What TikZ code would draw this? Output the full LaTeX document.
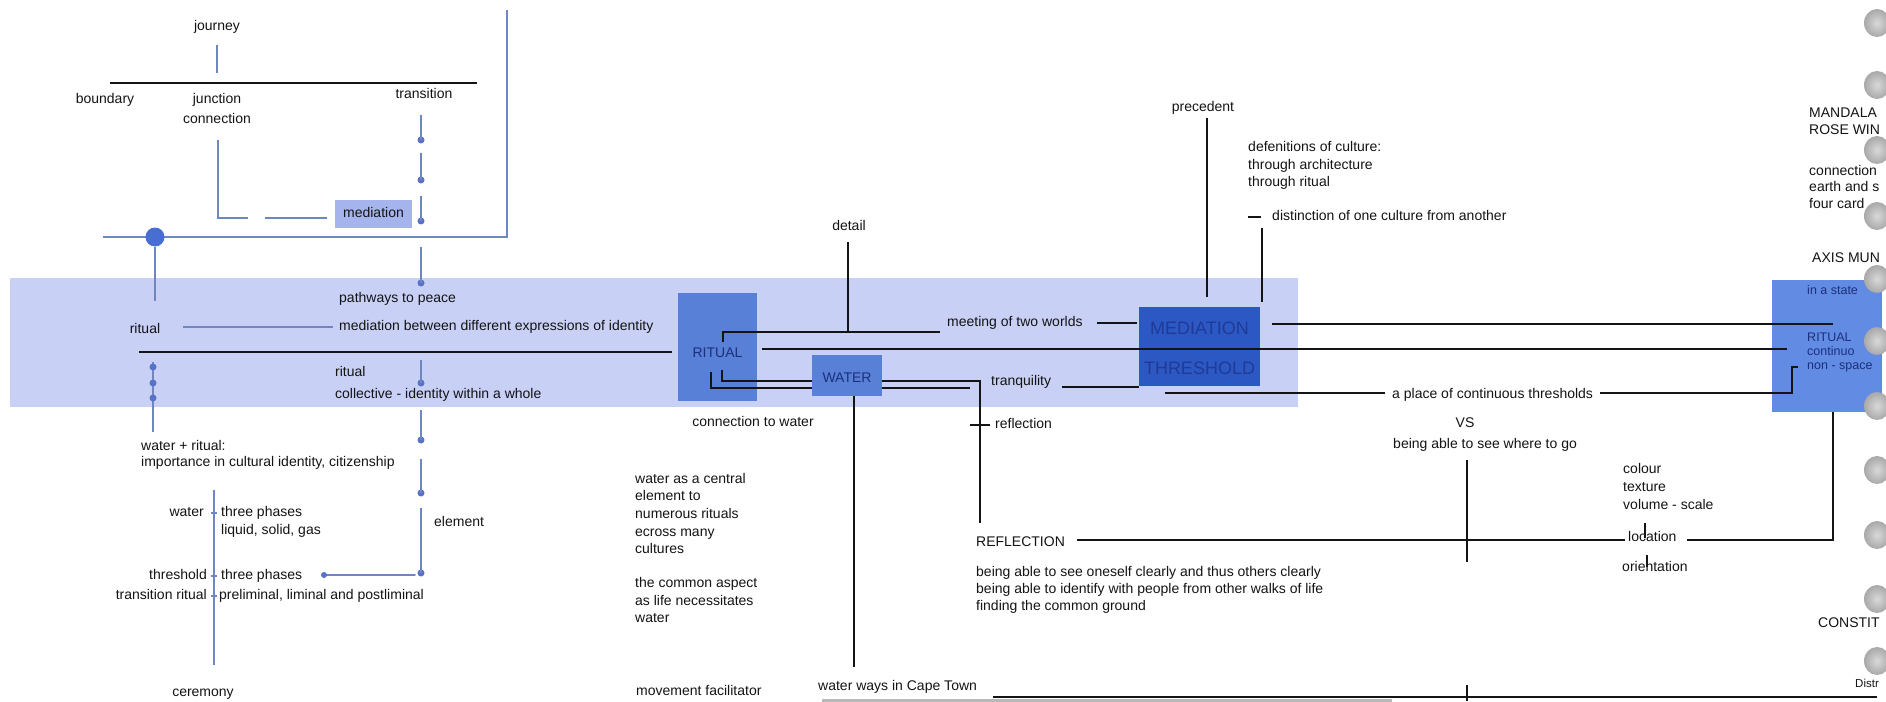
\documentclass[tikz,border=0pt]{standalone}
\usepackage{fontspec}
\setmainfont{Liberation Sans}
\definecolor{band}{RGB}{201,208,246}
\definecolor{boxblue}{RGB}{88,128,214}
\definecolor{medblue}{RGB}{44,88,196}
\definecolor{rightblue}{RGB}{98,140,228}
\definecolor{hilite}{RGB}{165,180,236}
\definecolor{bline}{RGB}{112,134,192}
\definecolor{bdot}{RGB}{88,114,200}
\definecolor{bigdot}{RGB}{72,110,212}
\definecolor{navy}{RGB}{28,48,125}
\definecolor{dimnavy}{RGB}{32,58,150}
\definecolor{ink}{RGB}{20,20,20}
\tikzset{
  txt/.style={inner sep=0pt,text height=10pt,text depth=3pt,font=\fontsize{14}{17}\selectfont,text=ink},
  smalltxt/.style={inner sep=0pt,text height=9pt,text depth=3pt,font=\fontsize{12.5}{15}\selectfont,text=navy},
  boxnode/.style={inner sep=0pt,font=\fontsize{14}{17}\selectfont,text=navy},
  bignode/.style={inner sep=0pt,fill=medblue,font=\fontsize{18}{20}\selectfont,text=dimnavy,text height=13pt,text depth=0pt},
  bl/.style={draw=ink,line width=1.8pt},
  gl/.style={draw=bline,line width=1.8pt},
  bdotn/.style={circle,fill=bdot,inner sep=0pt,minimum size=7pt},
  hole/.style={ellipse,inner sep=0pt,minimum width=26pt,minimum height=28pt,inner color=gray!30,outer color=gray!68},
}
\usetikzlibrary{shapes.geometric}
\begin{document}
\begin{tikzpicture}[x=1pt,y=-1pt]
\useasboundingbox (0,0) rectangle (1886,701);
\fill[white] (0,0) rectangle (1886,701);
% light band
\fill[band] (10,278) rectangle (1298,407);

% ---------- coordinates ----------
\path (217,45) coordinate (jA) (217,73) coordinate (jB)
      (110,83) coordinate (tA) (477,83) coordinate (tB)
      (218,140) coordinate (cA) (218,218) coordinate (cB) (248,218) coordinate (cC)
      (265,218) coordinate (cD) (327,218) coordinate (cE)
      (103,237) coordinate (fA) (507,237) coordinate (fB) (507,10) coordinate (fC)
      (155,301) coordinate (dA)
      (183,327) coordinate (rA) (333,327) coordinate (rB)
      (139,352) coordinate (kA) (672,352) coordinate (kB)
      (153,362) coordinate (lA) (153,432) coordinate (lB)
      (214,490) coordinate (vA) (214,665) coordinate (vB)
      (415,575) coordinate (eA) (324,575) coordinate (eB)
      (848,242) coordinate (dtA) (848,332) coordinate (dtB) (723,342) coordinate (dtC)
      (723,332) coordinate (dtD) (940,332) coordinate (dtE)
      (762,349) coordinate (mA) (1787,349) coordinate (mB)
      (722,370) coordinate (wA) (722,381) coordinate (wB) (980,381) coordinate (wC) (980,523) coordinate (wD)
      (711,372) coordinate (xA) (711,388) coordinate (xB) (970,388) coordinate (xC)
      (854,396) coordinate (wdA) (854,667) coordinate (wdB)
      (1097,323) coordinate (mtA) (1137,323) coordinate (mtB)
      (1272,324) coordinate (meA) (1833,324) coordinate (meB)
      (1207,118) coordinate (pA) (1207,297) coordinate (pB)
      (1248,217) coordinate (dsA) (1261,217) coordinate (dsB) (1262,228) coordinate (dsC) (1262,302) coordinate (dsD)
      (1062,387) coordinate (tqA) (1139,387) coordinate (tqB)
      (970,425) coordinate (rfA) (990,425) coordinate (rfB)
      (1165,393) coordinate (apA) (1385,393) coordinate (apB) (1600,393) coordinate (apC)
      (1792,393) coordinate (apD) (1792,367) coordinate (apE) (1798,367) coordinate (apF)
      (1077,540) coordinate (RA) (1625,540) coordinate (RB) (1687,540) coordinate (RC)
      (1833,540) coordinate (RD) (1833,412) coordinate (RE)
      (1645,523) coordinate (k1A) (1645,538) coordinate (k1B) (1647,555) coordinate (k2A) (1647,567) coordinate (k2B)
      (1467,460) coordinate (vsA) (1467,562) coordinate (vsB)
      (993,697) coordinate (btA) (1877,697) coordinate (btB) (1467,685) coordinate (btC) (1467,701) coordinate (btD)
      (822,700) coordinate (gA) (1392,700) coordinate (gB);

% ---------- top-left cluster ----------
\node[txt] (journey) at (217,27) {journey};
\node[txt] (boundary) at (105,100) {boundary};
\node[txt] (junction) at (217,100) {junction};
\node[txt] (connection) at (217,120) {connection};
\node[txt] (transition) at (424,95) {transition};
\node[txt,fill=hilite,minimum width=77pt,minimum height=28pt] (mediation) at (373.5,214) {mediation};
\draw[gl] (jA) -- (jB);
\draw[bl] (tA) -- (tB);
\draw[gl] (cA) -- (cB) -- (cC);
\draw[gl] (cD) -- (cE);
\draw[gl,line width=1.5pt] (fA) -- (fB) -- (fC);
\node[circle,fill=bigdot,minimum size=19pt,inner sep=0pt] (bigdot) at (155,237) {};
\draw[gl] (bigdot.south) -- (dA);
% dotted chain from transition
\foreach \a/\b [count=\i] in {115/140,153/180,196/221,247/283,360/383,410/440,459/493,508/573}{
  \node[bdotn] (cdot\i) at (421,\b) {};
  \draw[gl] (421,\a) coordinate (cs\i) -- (cdot\i.center);
}
\draw[gl,line cap=round] (eA) -- (eB);
\node[bdotn,minimum size=6pt] (edot) at (eB) {};
% left chain
\draw[gl] (lA) -- (lB);
\foreach \b [count=\i] in {367,383,398}{ \node[bdotn] (ldot\i) at (153,\b) {}; }
% band texts
\node[txt] (ritualL) at (145,330) {ritual};
\draw[gl] (rA) -- (rB);
\node[txt,anchor=west] (pathways) at (339,299) {pathways to peace};
\node[txt,anchor=west] (medbetween) at (339,327) {mediation between different expressions of identity};
\draw[bl] (kA) -- (kB);
\node[txt,anchor=west] (ritualM) at (335,373) {ritual};
\node[txt,anchor=west] (collective) at (335,395) {collective - identity within a whole};
\node[txt,anchor=west] (waterritual) at (141,447) {water + ritual:};
\node[txt,anchor=west] (importance) at (141,463) {importance in cultural identity, citizenship};
% phases
\draw[gl] (vA) -- (vB);
\foreach \yy in {513,576,596}{ \draw[gl,line width=1.5pt] (211,\yy) -- (217,\yy); }
\node[txt,anchor=east] (waterL) at (204,513) {water};
\node[txt,anchor=west] (phases1) at (221,513) {three phases};
\node[txt,anchor=west] (liquid) at (221,531) {liquid, solid, gas};
\node[txt,anchor=east] (thresholdL) at (207,576) {threshold};
\node[txt,anchor=west] (phases2) at (221,576) {three phases};
\node[txt,anchor=east] (transritual) at (207,596) {transition ritual};
\node[txt,anchor=west] (preliminal) at (219,596) {preliminal, liminal and postliminal};
\node[txt,anchor=west] (element) at (434,523) {element};
\node[txt] (ceremony) at (203,693) {ceremony};

% ---------- middle ----------
\node[boxnode,fill=boxblue,minimum width=79pt,minimum height=108pt,text height=20pt,text depth=0pt] (ritualbox) at (717.5,347) {RITUAL};
\draw[bl] (wA) -- (wB) -- (wC) -- (wD);
\draw[bl] (xA) -- (xB) -- (xC);
\node[boxnode,fill=boxblue,minimum width=70pt,minimum height=41pt,text height=13pt,text depth=0pt] (waterbox) at (847,375.5) {WATER};
\node[txt] (detail) at (849,227) {detail};
\draw[bl] (dtA) -- (dtB);
\draw[bl] (dtC) -- (dtD) -- (dtE);
\draw[bl] (wdA) -- (wdB);
\node[txt] (conwater) at (753,423) {connection to water};
\node[txt,anchor=west] (wc1) at (635,480) {water as a central};
\node[txt,anchor=west] (wc2) at (635,497) {element to};
\node[txt,anchor=west] (wc3) at (635,515) {numerous rituals};
\node[txt,anchor=west] (wc4) at (635,533) {ecross many};
\node[txt,anchor=west] (wc5) at (635,550) {cultures};
\node[txt,anchor=west] (ca1) at (635,584) {the common aspect};
\node[txt,anchor=west] (ca2) at (635,602) {as life necessitates};
\node[txt,anchor=west] (ca3) at (635,619) {water};
\node[txt,anchor=west] (movement) at (636,692) {movement facilitator};
\node[txt,anchor=west] (waterways) at (818,687) {water ways in Cape Town};
\draw[gray!55,line width=3pt] (gA) -- (gB);
\draw[bl] (btA) -- (btB);
\draw[bl] (btC) -- (btD);

\node[txt,anchor=west] (meeting) at (947,323) {meeting of two worlds};
\draw[bl] (mtA) -- (mtB);
\node[txt,anchor=west] (tranq) at (991,382) {tranquility};
\draw[bl] (tqA) -- (tqB);
\node[txt,anchor=west] (reflection) at (995,425) {reflection};
\draw[bl] (rfA) -- (rfB);

\node[bignode,minimum width=121pt,minimum height=42pt] (medbox) at (1199.5,328) {MEDIATION};
\node[bignode,minimum width=121pt,minimum height=37pt] (thrbox) at (1199.5,367.5) {THRESHOLD};
\node[fill=rightblue,minimum width=110pt,minimum height=132pt,inner sep=0pt] (rightbox) at (1827,346) {};

\draw[bl] (mA) -- (mB);
\draw[bl] (meA) -- (meB);
\node[txt] (precedent) at (1203,108) {precedent};
\draw[bl] (pA) -- (pB);
\node[txt,anchor=west] (def1) at (1248,148) {defenitions of culture:};
\node[txt,anchor=west] (def2) at (1248,166) {through architecture};
\node[txt,anchor=west] (def3) at (1248,183) {through ritual};
\draw[bl,line width=1.5pt] (dsA) -- (dsB);
\node[txt,anchor=west] (distinction) at (1272,217) {distinction of one culture from another};
\draw[bl] (dsC) -- (dsD);

\draw[bl] (apA) -- (apB);
\node[txt,anchor=west] (aplace) at (1392,395) {a place of continuous thresholds};
\draw[bl] (apC) -- (apD) -- (apE) -- (apF);
\node[txt] (vs) at (1465,424) {VS};
\node[txt,anchor=west] (seewhere) at (1393,445) {being able to see where to go};
\draw[bl] (vsA) -- (vsB);

\node[txt,anchor=west] (REFL) at (976,543) {REFLECTION};
\draw[bl] (RA) -- (RB);
\draw[bl] (RC) -- (RD) -- (RE);
\node[txt,anchor=west] (ba1) at (976,573) {being able to see oneself clearly and thus others clearly};
\node[txt,anchor=west] (ba2) at (976,590) {being able to identify with people from other walks of life};
\node[txt,anchor=west] (ba3) at (976,607) {finding the common ground};

\node[txt,anchor=west] (colour) at (1623,470) {colour};
\node[txt,anchor=west] (texture) at (1623,488) {texture};
\node[txt,anchor=west] (volume) at (1623,506) {volume - scale};
\node[txt,anchor=west] (location) at (1628,538) {location};
\node[txt,anchor=west] (orientation) at (1622,568) {orientation};
\draw[bl,line width=1.4pt] (k1A) -- (k1B);
\draw[bl,line width=1.4pt] (k2A) -- (k2B);

% ---------- right column ----------
\node[txt,anchor=west] (mandala) at (1809,114) {MANDALA};
\node[txt,anchor=west] (rosewin) at (1809,131) {ROSE WIN};
\node[txt,anchor=west] (conn2) at (1809,172) {connection};
\node[txt,anchor=west] (earth) at (1809,188) {earth and s};
\node[txt,anchor=west] (fourcard) at (1809,205) {four card};
\node[txt,anchor=west] (axis) at (1812,259) {AXIS MUN};
\node[smalltxt,anchor=west] (state) at (1807,291) {in a state};
\node[smalltxt,anchor=west] (ritualR) at (1807,338) {RITUAL};
\node[smalltxt,anchor=west] (contin) at (1807,352) {continuo};
\node[smalltxt,anchor=west] (nonspace) at (1807,366) {non - space};
\node[txt,anchor=west] (constit) at (1818,624) {CONSTIT};
\node[smalltxt,text=ink,anchor=west,font=\fontsize{11.5}{14}\selectfont] (distr) at (1855,684) {Distr};

% binder holes
\foreach \yy [count=\i] in {23,85,150,216,279,341,406,470,535,599,661}{
  \node[hole] (hole\i) at (1877,\yy) {};
}
\end{tikzpicture}
\end{document}
